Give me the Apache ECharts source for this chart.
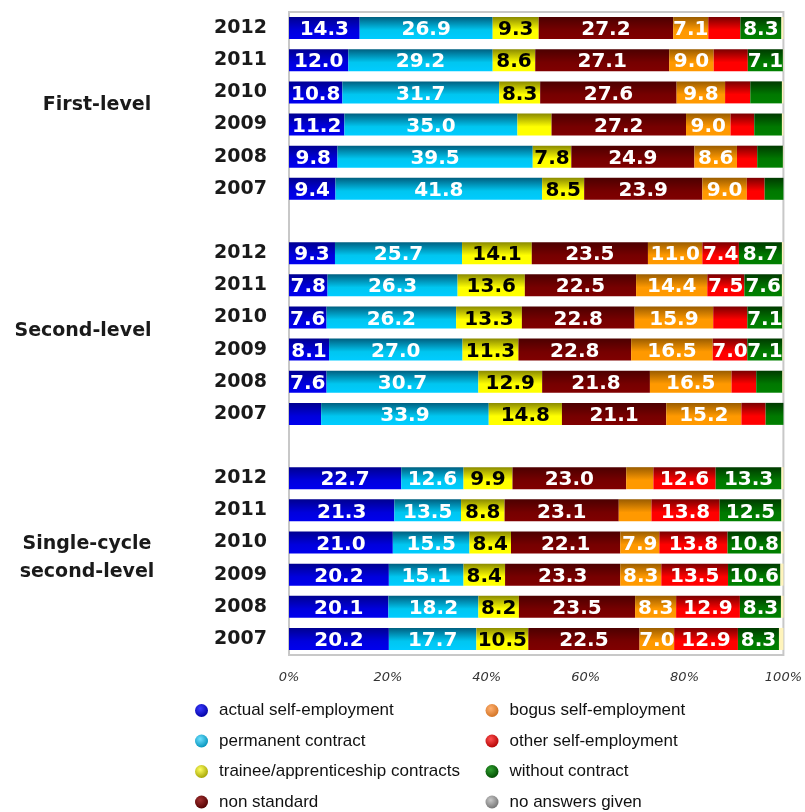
<!DOCTYPE html>
<html>
<head>
<meta charset="utf-8">
<script src="https://cdn.jsdelivr.net/npm/echarts@6/dist/echarts.min.js"></script>
<style>
  html, body { margin: 0; padding: 0; background: #fff; }
  #chart { width: 805px; height: 812px; }
</style>
</head>
<body>
<div id="chart"></div>
<script>
// rows inside each group, top to bottom
const years = ['2012', '2011', '2010', '2009', '2008', '2007'];
const groups = ['First-level', 'Second-level', 'Single-cycle\nsecond-level'];

const seriesNames = [
  'actual self-employment', 'permanent contract', 'trainee/apprenticeship contracts', 'non standard',
  'bogus self-employment', 'other self-employment', 'without contract', 'no answers given'
];

// values per series: First-level (6), Second-level (6), Single-cycle (6)
const actual      = [14.3, 12.0, 10.8, 11.2, 9.8, 9.4,   9.3, 7.8, 7.6, 8.1, 7.6, 6.5,   22.7, 21.3, 21.0, 20.2, 20.1, 20.2];
const permanent   = [26.9, 29.2, 31.7, 35.0, 39.5, 41.8, 25.7, 26.3, 26.2, 27.0, 30.7, 33.9, 12.6, 13.5, 15.5, 15.1, 18.2, 17.7];
const trainee     = [9.3, 8.6, 8.3, 6.9, 7.8, 8.5,      14.1, 13.6, 13.3, 11.3, 12.9, 14.8, 9.9, 8.8, 8.4, 8.4, 8.2, 10.5];
const nonStandard = [27.2, 27.1, 27.6, 27.2, 24.9, 23.9, 23.5, 22.5, 22.8, 22.8, 21.8, 21.1, 23.0, 23.1, 22.1, 23.3, 23.5, 22.5];
const bogus       = [7.1, 9.0, 9.8, 9.0, 8.6, 9.0,      11.0, 14.4, 15.9, 16.5, 16.5, 15.2, 5.5, 6.6, 7.9, 8.3, 8.3, 7.0];
const otherSelf   = [6.5, 6.9, 5.1, 4.8, 4.1, 3.6,      7.4, 7.5, 6.9, 7.0, 5.0, 4.9,      12.6, 13.8, 13.8, 13.5, 12.9, 12.9];
const without     = [8.3, 7.1, 6.4, 5.6, 5.2, 3.8,      8.7, 7.6, 7.1, 7.1, 5.3, 3.6,      13.3, 12.5, 10.8, 10.6, 8.3, 8.3];
const noAnswer    = [0.4, 0.1, 0.3, 0.3, 0.1, 0.0,      0.3, 0.3, 0.2, 0.2, 0.2, 0.0,      0.4, 0.4, 0.5, 0.6, 0.5, 0.9];

const xTicks = [0, 20, 40, 60, 80, 100];

const allValues = [actual, permanent, trainee, nonStandard, bogus, otherSelf, without, noAnswer];

// bar gradients (dark top -> bright bottom)
const grad = (a, b, c) => ({
  type: 'linear', x: 0, y: 0, x2: 0, y2: 1,
  colorStops: [{ offset: 0, color: a }, { offset: 0.6, color: b }, { offset: 1, color: c }]
});
const barColors = [
  grad('#000090', '#0000dd', '#0000ee'),
  grad('#005f80', '#00c6f0', '#00ccff'),
  grad('#8a8a00', '#ffff00', '#ffff00'),
  grad('#4c0000', '#760000', '#800000'),
  grad('#9a5c00', '#ff9900', '#ff9900'),
  grad('#7a0000', '#ff0000', '#ff0000'),
  grad('#003a00', '#007800', '#008000'),
  '#fff4bc'
];
const labelColors = ['#fff', '#fff', '#000', '#fff', '#fff', '#fff', '#fff', '#fff'];

const ball = (light, dark) => ({
  type: 'radial', x: 0.4, y: 0.35, r: 0.7,
  colorStops: [{ offset: 0, color: light }, { offset: 1, color: dark }]
});
const legendColors = [
  ball('#3a3aff', '#0000a0'), ball('#6fe0ff', '#0090b8'), ball('#ffff60', '#a0a000'), ball('#a03030', '#500000'),
  ball('#ffb070', '#d07020'), ball('#ff5050', '#b00000'), ball('#30a030', '#004800'), ball('#c8c8c8', '#707070')
];

// categories with an empty row between groups
const categories = [];
const rowIndex = [];
groups.forEach((g, gi) => {
  years.forEach((y, yi) => {
    categories.push(g + '|' + y);
    rowIndex.push(gi * 6 + yi);
  });
  if (gi < groups.length - 1) {
    categories.push('gap' + gi);
    rowIndex.push(-1);
  }
});

const font = 'DejaVu Sans';

const series = seriesNames.map((name, si) => ({
  name: name,
  type: 'bar',
  stack: 'total',
  barWidth: 22,
  data: rowIndex.map((r) => (r < 0 ? null : allValues[si][r])),
  itemStyle: { color: barColors[si] },
  label: {
    show: true,
    position: 'inside',
    offset: [0, 2],
    color: labelColors[si],
    fontFamily: font,
    fontWeight: 'bold',
    fontSize: 20,
    formatter: (p) => (p.value != null && p.value >= 7 ? p.value.toFixed(1) : '')
  },
  emphasis: { disabled: true }
}));

const legendText = {
  fontFamily: 'Liberation Sans', fontSize: 17, color: '#111', padding: [0, 0, 0, 6]
};
const legendItems = (from, to) => seriesNames.slice(from, to).map((n, i) => ({
  name: n,
  itemStyle: { color: legendColors[from + i] }
}));
const legendBase = {
  orient: 'vertical', top: 702, padding: 0, height: 200,
  icon: 'circle', itemWidth: 13, itemHeight: 13, itemGap: 13.5,
  textStyle: legendText, selectedMode: false
};

const chart = echarts.init(document.getElementById('chart'));
chart.setOption({
  animation: false,
  grid: {
    left: 289, right: 20, top: 12, bottom: 157,
    show: true, borderColor: '#c8c8c8', borderWidth: 2, backgroundColor: 'transparent'
  },
  legend: [
    Object.assign({ data: legendItems(0, 4), left: 195 }, legendBase),
    Object.assign({ data: legendItems(4, 8), left: 485.5 }, legendBase)
  ],
  xAxis: {
    type: 'value', min: xTicks[0], max: xTicks[xTicks.length - 1], interval: 20,
    axisLine: { show: false }, axisTick: { show: false }, splitLine: { show: false },
    axisLabel: {
      margin: 16, formatter: '{value}%',
      fontFamily: font, fontStyle: 'italic', fontSize: 13, color: '#333'
    }
  },
  yAxis: {
    type: 'category', inverse: true, data: categories,
    axisLine: { show: false }, axisTick: { show: false },
    axisLabel: {
      margin: 22, interval: 0,
      fontFamily: font, fontWeight: 'bold', fontSize: 19, color: '#1a1a1a',
      formatter: (v) => (v.indexOf('|') >= 0 ? v.split('|')[1] : '')
    }
  },
  series: series
});

// group names, centred between the 2010 and 2009 rows of each group
const groupX = [97, 83, 87];
const groupShift = [-3, -2, 0];
chart.setOption({
  graphic: groups.map((g, gi) => {
    const y1 = chart.convertToPixel({ yAxisIndex: 0 }, g + '|2010');
    const y2 = chart.convertToPixel({ yAxisIndex: 0 }, g + '|2009');
    return {
      type: 'text',
      x: groupX[gi],
      y: (y1 + y2) / 2 + groupShift[gi],
      style: {
        text: g, fill: '#1a1a1a', font: 'bold 19px "DejaVu Sans"',
        align: 'center', verticalAlign: 'middle', lineHeight: 28
      }
    };
  })
});
</script>
</body>
</html>
